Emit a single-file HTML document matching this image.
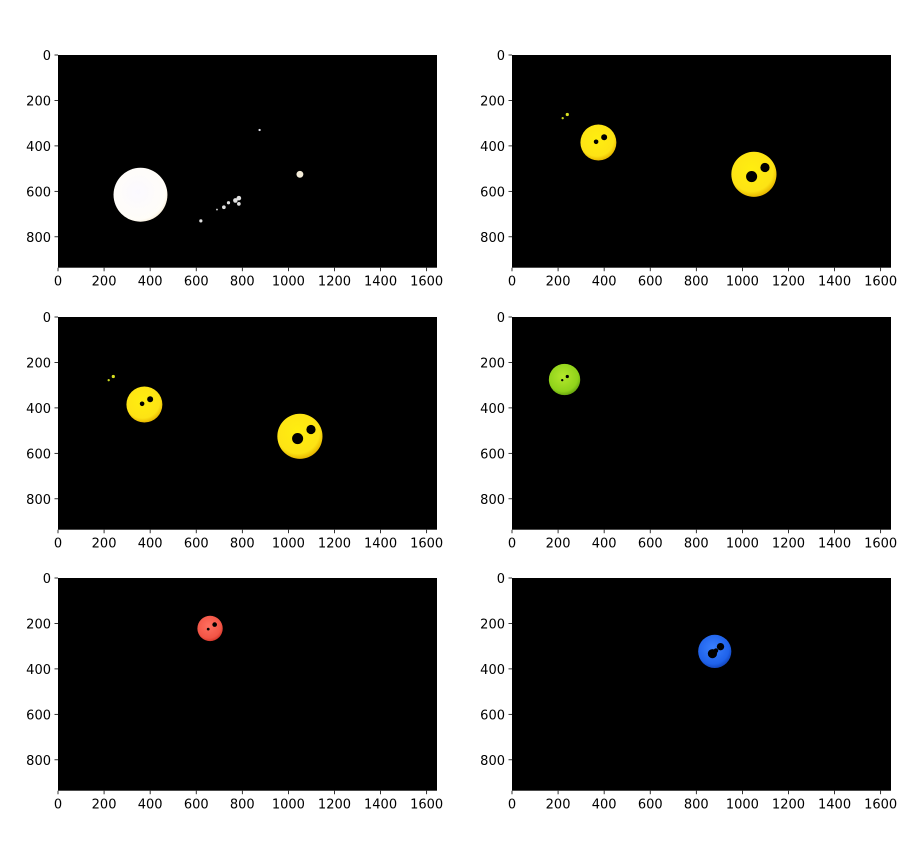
<!DOCTYPE html>
<html><head><meta charset="utf-8"><style>
html,body{margin:0;padding:0;background:#fff;}
svg text{font-family:"DejaVu Sans","Liberation Sans",sans-serif;font-size:13px;fill:#000;}
</style></head><body>
<svg id="fig" width="913" height="861" viewBox="0 0 913 861" xmlns="http://www.w3.org/2000/svg">
<defs>
<radialGradient id="gWhite" cx="45%" cy="45%" r="60%"><stop offset="0" stop-color="#fbf9ff"/><stop offset="0.85" stop-color="#fffdf8"/><stop offset="1" stop-color="#f6ead0"/></radialGradient>
<radialGradient id="gYellow" cx="45%" cy="40%" r="60%"><stop offset="0" stop-color="#ffee10"/><stop offset="0.8" stop-color="#fde314"/><stop offset="1" stop-color="#e8b800"/></radialGradient>
<radialGradient id="gGreen" cx="45%" cy="40%" r="60%"><stop offset="0" stop-color="#b4e82c"/><stop offset="0.8" stop-color="#8fd21a"/><stop offset="1" stop-color="#6aa810"/></radialGradient>
<radialGradient id="gRed" cx="45%" cy="40%" r="60%"><stop offset="0" stop-color="#ff7060"/><stop offset="0.8" stop-color="#f25546"/><stop offset="1" stop-color="#d83a2e"/></radialGradient>
<radialGradient id="gBlue" cx="45%" cy="40%" r="60%"><stop offset="0" stop-color="#3a80ff"/><stop offset="0.8" stop-color="#1f62ea"/><stop offset="1" stop-color="#1448c0"/></radialGradient>
</defs>
</svg>
<script>
const xTicks=[0,200,400,600,800,1000,1200,1400,1600];
const yTicks=[0,200,400,600,800];
const imgW=1645, imgH=936;
// blobs per panel: [x, y, r, fill]
const panel1=[[358,615,117,'url(#gWhite)'],[1050,525,15,'#f4ecd8'],[875,330,5,'#e0e0e8'],[620,730,7,'#e0e0e0'],[690,680,4,'#d0d0d0'],[720,670,8,'#e0e0e0'],[740,650,7,'#e0e0e0'],[770,640,10,'#e0e0e0'],[785,630,10,'#e0e0e0'],[785,655,8,'#e0e0e0']];
const panel2=[[375,385,78,'url(#gYellow)'],[1050,525,98,'url(#gYellow)'],[240,262,7,'#d8e020'],[220,278,5,'#c8d820'],[365,382,10,'#000'],[400,362,13,'#000'],[1040,535,24,'#000'],[1098,495,20,'#000']];
const panel3=[[375,385,78,'url(#gYellow)'],[1050,525,98,'url(#gYellow)'],[240,262,7,'#d8e020'],[220,278,5,'#c8d820'],[365,382,10,'#000'],[400,362,13,'#000'],[1040,535,24,'#000'],[1098,495,20,'#000']];
const panel4=[[228,275,68,'url(#gGreen)'],[240,262,7,'#000'],[218,278,5,'#000']];
const panel5=[[660,222,55,'url(#gRed)'],[680,205,10,'#000'],[652,225,6,'#000']];
const panel6=[[880,323,72,'url(#gBlue)'],[870,333,20,'#000'],[905,302,16,'#000'],[885,320,10,'#000']];
const panels=[panel1,panel2,panel3,panel4,panel5,panel6];
const NS='http://www.w3.org/2000/svg';
const svg=document.getElementById('fig');
const lefts=[58,512], tops=[55,317,578], W=379, H=212.7;
function mk(t,a){const e=document.createElementNS(NS,t);for(const k in a)e.setAttribute(k,a[k]);return e;}
panels.forEach((p,i)=>{
  const L=lefts[i%2], T=tops[Math.floor(i/2)];
  const sx=v=>L+v*W/imgW, sy=v=>T+v*H/imgH, sr=v=>v*W/imgW;
  const g=mk('g',{});
  
  
  svg.appendChild(g);
  const bg=mk('rect',{x:L,y:T,width:W,height:H,fill:'#000'});
  
  
  g.appendChild(bg);
  p.forEach((b,j)=>{
    const c=mk('circle',{cx:sx(b[0]),cy:sy(b[1]),r:sr(b[2]),fill:b[3]});
    
    
    g.appendChild(c);
  });
  xTicks.forEach(t=>{
    const x=sx(t);
    const ln=mk('line',{x1:x,x2:x,y1:T+H,y2:T+H+3.5,stroke:'#000','stroke-width':0.8});
    
    
    g.appendChild(ln);
    const tx=mk('text',{x:x,y:T+H+18,'text-anchor':'middle'});tx.textContent=t;
    
    
    g.appendChild(tx);
  });
  yTicks.forEach(t=>{
    const y=sy(t);
    const ln=mk('line',{x1:L-3.5,x2:L,y1:y,y2:y,stroke:'#000','stroke-width':0.8});
    
    
    g.appendChild(ln);
    const tx=mk('text',{x:L-7,y:y+5,'text-anchor':'end'});tx.textContent=t;
    
    
    g.appendChild(tx);
  });
});
</script>
</body></html>
